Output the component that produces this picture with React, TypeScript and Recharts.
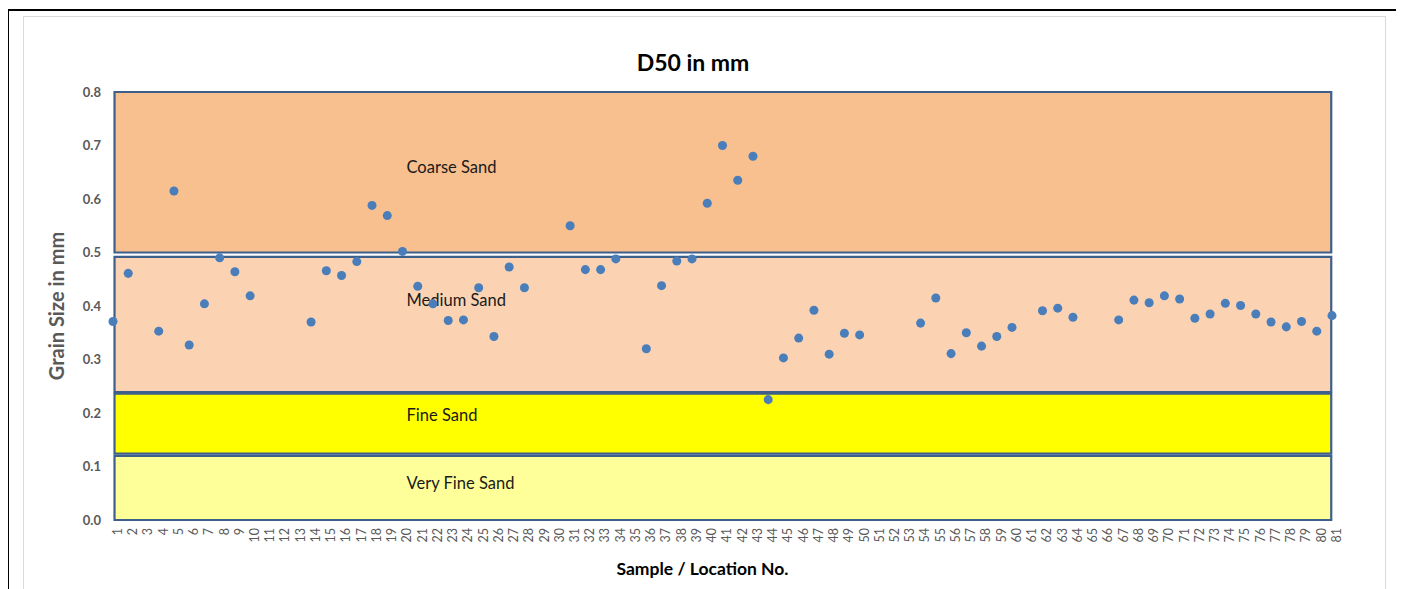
import { Label, ReferenceArea, Scatter, ScatterChart, XAxis, YAxis } from 'recharts';

const samples = [
  1, 2, 3, 4, 5, 6, 7, 8, 9, 10, 11, 12, 13, 14, 15, 16, 17, 18, 19, 20,
  21, 22, 23, 24, 25, 26, 27, 28, 29, 30, 31, 32, 33, 34, 35, 36, 37, 38, 39, 40,
  41, 42, 43, 44, 45, 46, 47, 48, 49, 50, 51, 52, 53, 54, 55, 56, 57, 58, 59, 60,
  61, 62, 63, 64, 65, 66, 67, 68, 69, 70, 71, 72, 73, 74, 75, 76, 77, 78, 79, 80, 81,
];

// D50 (mm) per sample, null where no sample was taken
const d50 = [
  0.371, 0.461, null, 0.353, 0.615, 0.327, 0.404, 0.49, 0.464, 0.419,
  null, null, null, 0.37, 0.466, 0.457, 0.483, 0.588, 0.569, 0.502,
  0.437, 0.404, 0.373, 0.374, 0.434, 0.343, 0.473, 0.434, null, null,
  0.55, 0.468, 0.468, 0.488, null, 0.32, 0.438, 0.484, 0.488, 0.592,
  0.7, 0.635, 0.68, 0.225, 0.303, 0.34, 0.392, 0.31, 0.349, 0.346,
  null, null, null, 0.368, 0.415, 0.311, 0.35, 0.325, 0.343, 0.36,
  null, 0.391, 0.396, 0.379, null, null, 0.374, 0.411, 0.406, 0.419,
  0.413, 0.377, 0.385, 0.405, 0.401, 0.385, 0.37, 0.361, 0.371, 0.353, 0.382,
];

const yTicks = [0, 0.1, 0.2, 0.3, 0.4, 0.5, 0.6, 0.7, 0.8];

// grain size classes (mm)
const bandNames = ['Coarse Sand', 'Medium Sand', 'Fine Sand', 'Very Fine Sand'];
const bandFrom = [0.5, 0.239, 0.124, 0];
const bandTo = [0.8, 0.492, 0.236, 0.12];
const bandColors = ['#F8BF8F', '#FBD3B3', '#FFFF00', '#FFFF99'];

// where each class label sits inside its box
const bandLabelDy = [81, 49, 27, 33];

const FONT = 'Lato, "Open Sans", sans-serif';
const AXIS_GREY = '#595959';
const BORDER = '#3E5F8A';

const data = samples
  .map((s, i) => ({ sample: s, d50: d50[i] }))
  .filter((p) => p.d50 !== null);

function bandLabel(text: string, dy: number) {
  return ({ viewBox }: any) => (
    <text
      x={viewBox.x + 292}
      y={viewBox.y + dy}
      fontFamily={FONT}
      fontSize={16.5}
      fill="#1a1a1a"
    >
      {text}
    </text>
  );
}

export default function App() {
  return (
    <div style={{ position: 'relative', width: 1388, height: 581, fontFamily: FONT }}>
      <style>{'html,body{overflow:hidden}'}</style>
      <div
        style={{
          position: 'absolute',
          left: -1,
          top: 1,
          width: 1394,
          height: 620,
          border: '2px solid #000',
          boxSizing: 'border-box',
        }}
      />
      <div
        style={{
          position: 'absolute',
          left: 15,
          top: 8,
          width: 1363,
          height: 620,
          border: '1px solid #d9d9d9',
          boxSizing: 'border-box',
        }}
      />
      <div
        style={{
          position: 'absolute',
          left: 585,
          top: 41,
          width: 200,
          textAlign: 'center',
          fontSize: 23,
          fontWeight: 700,
          color: '#000',
          lineHeight: 1.2,
        }}
      >
        D50 in mm
      </div>
      <div style={{ position: 'absolute', left: 0, top: 0 }}>
        <ScatterChart
          width={1388}
          height={581}
          margin={{ top: 84, right: 64, bottom: 0, left: 0 }}
        >
          {bandNames.map((name, i) => (
            <ReferenceArea
              key={name}
              x1={1.1}
              x2={80.95}
              y1={bandFrom[i]}
              y2={bandTo[i]}
              fill={bandColors[i]}
              fillOpacity={1}
              stroke={BORDER}
              strokeWidth={2.2}
              label={bandLabel(name, bandLabelDy[i])}
            />
          ))}
          <XAxis
            type="number"
            dataKey="sample"
            domain={[1, 81]}
            ticks={samples}
            interval={0}
            height={69}
            axisLine={false}
            tickLine={false}
            tickSize={0}
            tickMargin={8}
            tick={{
              angle: -90,
              textAnchor: 'end',
              verticalAnchor: 'middle',
              fontSize: 12.5,
              fill: AXIS_GREY,
              fontFamily: FONT,
            }}
          >
            <Label
              value="Sample / Location No."
              position="insideBottom"
              offset={14}
              dx={-20}
              style={{ fontSize: 17.5, fontWeight: 700, fill: '#000', fontFamily: FONT }}
            />
          </XAxis>
          <YAxis
            type="number"
            dataKey="d50"
            domain={[0, 0.8]}
            ticks={yTicks}
            width={105}
            axisLine={false}
            tickLine={false}
            tickSize={0}
            tickMargin={12}
            tickFormatter={(v: number) => v.toFixed(1)}
            tick={{ fontSize: 13, fontWeight: 700, fill: AXIS_GREY, fontFamily: FONT }}
          >
            <Label
              value="Grain Size in mm"
              angle={-90}
              position="insideLeft"
              offset={49}
              style={{
                fontSize: 20,
                fontWeight: 700,
                fill: AXIS_GREY,
                fontFamily: FONT,
                textAnchor: 'middle',
              }}
            />
          </YAxis>
          <Scatter data={data} fill="#4A7EBB" isAnimationActive={false} />
        </ScatterChart>
      </div>
    </div>
  );
}
